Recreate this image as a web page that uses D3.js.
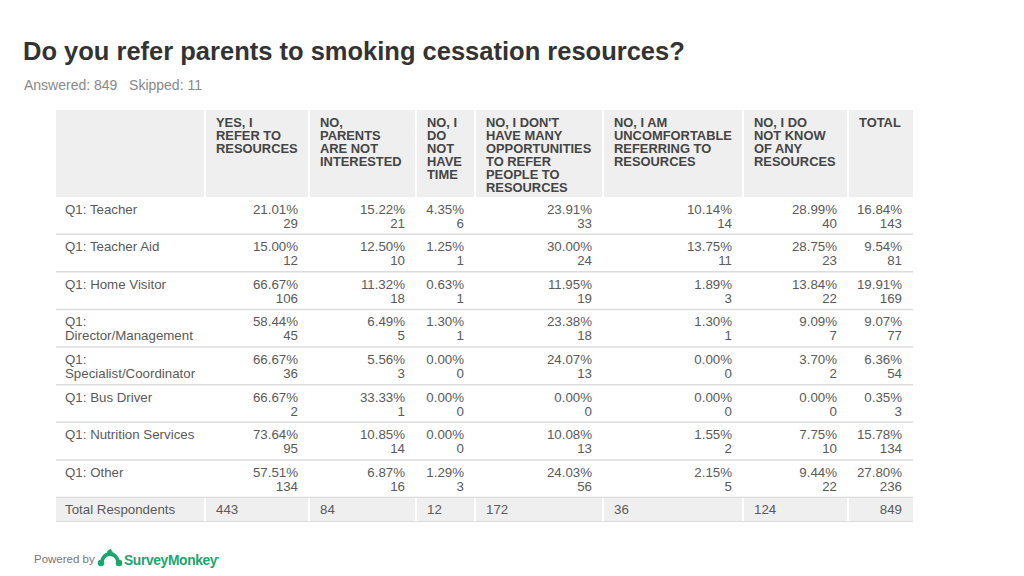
<!DOCTYPE html>
<html>
<head>
<meta charset="utf-8">
<script src="https://cdn.jsdelivr.net/npm/d3@7"></script>
<style>
  html, body { margin: 0; padding: 0; background: #fff; }
  svg { display: block; font-family: "Liberation Sans", Arial, Helvetica, sans-serif; }
</style>
</head>
<body>
<svg id="chart" width="1024" height="576"></svg>
<script>
// ---------- DATA ----------
const title = "Do you refer parents to smoking cessation resources?";
const subtitle = "Answered: 849   Skipped: 11";

const columns = [
  ["YES, I", "REFER TO", "RESOURCES"],
  ["NO,", "PARENTS", "ARE NOT", "INTERESTED"],
  ["NO, I", "DO", "NOT", "HAVE", "TIME"],
  ["NO, I DON'T", "HAVE MANY", "OPPORTUNITIES", "TO REFER", "PEOPLE TO", "RESOURCES"],
  ["NO, I AM", "UNCOMFORTABLE", "REFERRING TO", "RESOURCES"],
  ["NO, I DO", "NOT KNOW", "OF ANY", "RESOURCES"],
  ["TOTAL"]
];

const categories = [
  ["Q1: Teacher"],
  ["Q1: Teacher Aid"],
  ["Q1: Home Visitor"],
  ["Q1:", "Director/Management"],
  ["Q1:", "Specialist/Coordinator"],
  ["Q1: Bus Driver"],
  ["Q1: Nutrition Services"],
  ["Q1: Other"]
];

const percents = [
  [21.01, 15.22, 4.35, 23.91, 10.14, 28.99, 16.84],
  [15.00, 12.50, 1.25, 30.00, 13.75, 28.75, 9.54],
  [66.67, 11.32, 0.63, 11.95, 1.89, 13.84, 19.91],
  [58.44, 6.49, 1.30, 23.38, 1.30, 9.09, 9.07],
  [66.67, 5.56, 0.00, 24.07, 0.00, 3.70, 6.36],
  [66.67, 33.33, 0.00, 0.00, 0.00, 0.00, 0.35],
  [73.64, 10.85, 0.00, 10.08, 1.55, 7.75, 15.78],
  [57.51, 6.87, 1.29, 24.03, 2.15, 9.44, 27.80]
];

const counts = [
  [29, 21, 6, 33, 14, 40, 143],
  [12, 10, 1, 24, 11, 23, 81],
  [106, 18, 1, 19, 3, 22, 169],
  [45, 5, 1, 18, 1, 7, 77],
  [36, 3, 0, 13, 0, 2, 54],
  [2, 1, 0, 0, 0, 0, 3],
  [95, 14, 0, 13, 2, 10, 134],
  [134, 16, 3, 56, 5, 22, 236]
];

const totalLabel = "Total Respondents";
const totalRespondents = [443, 84, 12, 172, 36, 124, 849];

const footerText = "Powered by";
const brandText = "SurveyMonkey";

// ---------- LAYOUT ----------
const svg = d3.select("#chart");
const colEdges = [56, 205, 309, 416, 475, 603, 743, 848, 913];
const tableLeft = colEdges[0], tableRight = colEdges[colEdges.length - 1];
const headerTop = 110, headerBottom = 197, bodyBottom = 498, totalBottom = 521;
const bodyFont = 13.3, headFont = 12.9;
const bodyColor = "#5a5a5a";

const colIdx = d3.range(columns.length);
const xLeft = d3.scaleOrdinal().domain(colIdx).range(colEdges.slice(1, -1));
const xRight = d3.scaleOrdinal().domain(colIdx).range(colEdges.slice(2));

const y = d3.scaleBand()
  .domain(d3.range(categories.length))
  .range([headerBottom, bodyBottom]);

const fmtPct = d3.format(".2f");

// Title
svg.append("text")
  .attr("x", 23).attr("y", 60)
  .attr("font-size", 25.5).attr("font-weight", "bold").attr("fill", "#333")
  .text(title);

svg.append("text")
  .attr("x", 24).attr("y", 90)
  .attr("font-size", 14).attr("fill", "#888")
  .attr("xml:space", "preserve")
  .style("white-space", "pre")
  .text(subtitle);

// Header background cells
const hdr = svg.append("g");
hdr.append("rect")
  .attr("x", tableLeft).attr("y", headerTop)
  .attr("width", colEdges[1] - tableLeft).attr("height", headerBottom - headerTop)
  .attr("fill", "#efefef");
hdr.selectAll("rect.hc").data(colIdx).join("rect")
  .attr("class", "hc")
  .attr("x", d => xLeft(d) + 1).attr("y", headerTop)
  .attr("width", d => xRight(d) - xLeft(d) - 1).attr("height", headerBottom - headerTop)
  .attr("fill", "#efefef");
hdr.selectAll("line.sep").data(colIdx).join("line")
  .attr("class", "sep")
  .attr("x1", d => xLeft(d)).attr("x2", d => xLeft(d))
  .attr("y1", headerTop).attr("y2", headerBottom)
  .attr("stroke", "#fff").attr("stroke-width", 2);

// Header text
const ht = hdr.selectAll("text.h").data(colIdx).join("text")
  .attr("class", "h")
  .attr("x", d => xLeft(d) + 11)
  .attr("y", headerTop + 16.5)
  .attr("font-size", headFont).attr("font-weight", "bold").attr("fill", "#454545");
ht.selectAll("tspan").data(d => columns[d]).join("tspan")
  .attr("x", function() { return d3.select(this.parentNode).attr("x"); })
  .attr("dy", (d, i) => i === 0 ? 0 : 13)
  .text(d => d);

// Body rows
const rows = svg.append("g").selectAll("g.row").data(d3.range(categories.length)).join("g")
  .attr("class", "row")
  .attr("transform", i => `translate(0,${y(i)})`);

rows.append("line")
  .attr("x1", tableLeft).attr("x2", tableRight)
  .attr("y1", y.bandwidth() - 0.5).attr("y2", y.bandwidth() - 0.5)
  .attr("stroke", "#dcdcdc").attr("stroke-width", 1.5);

const lbl = rows.append("text")
  .attr("x", tableLeft + 9).attr("y", 16.5)
  .attr("font-size", bodyFont).attr("fill", bodyColor);
lbl.selectAll("tspan").data(i => categories[i]).join("tspan")
  .attr("x", tableLeft + 9)
  .attr("dy", (d, k) => k === 0 ? 0 : 14)
  .text(d => d);

rows.each(function(i) {
  const g = d3.select(this);
  g.selectAll("text.pct").data(colIdx).join("text")
    .attr("class", "pct")
    .attr("x", c => xRight(c) - 11).attr("y", 16.5)
    .attr("text-anchor", "end")
    .attr("font-size", bodyFont).attr("fill", bodyColor)
    .text(c => fmtPct(percents[i][c]) + "%");
  g.selectAll("text.cnt").data(colIdx).join("text")
    .attr("class", "cnt")
    .attr("x", c => xRight(c) - 11).attr("y", 30.5)
    .attr("text-anchor", "end")
    .attr("font-size", bodyFont).attr("fill", bodyColor)
    .text(c => counts[i][c]);
});

// Total row
const tot = svg.append("g");
tot.append("rect")
  .attr("x", tableLeft).attr("y", bodyBottom)
  .attr("width", colEdges[1] - tableLeft).attr("height", totalBottom - bodyBottom)
  .attr("fill", "#efefef");
tot.selectAll("rect.tc").data(colIdx).join("rect")
  .attr("class", "tc")
  .attr("x", d => xLeft(d) + 1).attr("y", bodyBottom)
  .attr("width", d => xRight(d) - xLeft(d) - 1).attr("height", totalBottom - bodyBottom)
  .attr("fill", "#efefef");
tot.selectAll("line.sep").data(colIdx).join("line")
  .attr("class", "sep")
  .attr("x1", d => xLeft(d)).attr("x2", d => xLeft(d))
  .attr("y1", bodyBottom).attr("y2", totalBottom)
  .attr("stroke", "#fff").attr("stroke-width", 2);
tot.append("line")
  .attr("x1", tableLeft).attr("x2", tableRight)
  .attr("y1", totalBottom + 0.5).attr("y2", totalBottom + 0.5)
  .attr("stroke", "#dcdcdc").attr("stroke-width", 1);
tot.append("text")
  .attr("x", tableLeft + 9).attr("y", bodyBottom + 15.5)
  .attr("font-size", bodyFont).attr("fill", bodyColor)
  .text(totalLabel);
tot.selectAll("text.tv").data(colIdx).join("text")
  .attr("class", "tv")
  .attr("x", c => c === columns.length - 1 ? xRight(c) - 11 : xLeft(c) + 11)
  .attr("text-anchor", c => c === columns.length - 1 ? "end" : "start")
  .attr("y", bodyBottom + 15.5)
  .attr("font-size", bodyFont).attr("fill", bodyColor)
  .text(c => totalRespondents[c]);

// Footer
const ft = svg.append("g");
ft.append("text")
  .attr("x", 34).attr("y", 563)
  .attr("font-size", 11.5).attr("fill", "#777")
  .text(footerText);
const green = "#1aa66e";
const logo = ft.append("g").attr("transform", "translate(98,549)");
logo.append("path")
  .attr("d", "M2,15 C2,7 7,3 12,3 C17,3 22,7 22,15 L18.5,15 C18.5,10 15.5,7 12,7 C8.5,7 5.5,10 5.5,15 Z")
  .attr("fill", green);
logo.append("circle").attr("cx", 3).attr("cy", 14).attr("r", 3.3).attr("fill", green);
logo.append("circle").attr("cx", 21).attr("cy", 14).attr("r", 3.3).attr("fill", green);
logo.append("path")
  .attr("d", "M9,4 C9,1 12,0 13,0 C13,2 15,2 15,4 Z")
  .attr("fill", green);
ft.append("text")
  .attr("x", 124).attr("y", 565)
  .attr("font-size", 13.8).attr("font-weight", "bold").attr("fill", green)
  .attr("letter-spacing", -0.35)
  .text(brandText);
ft.append("circle").attr("cx", 218).attr("cy", 558).attr("r", 0.9).attr("fill", green);
</script>
</body>
</html>
